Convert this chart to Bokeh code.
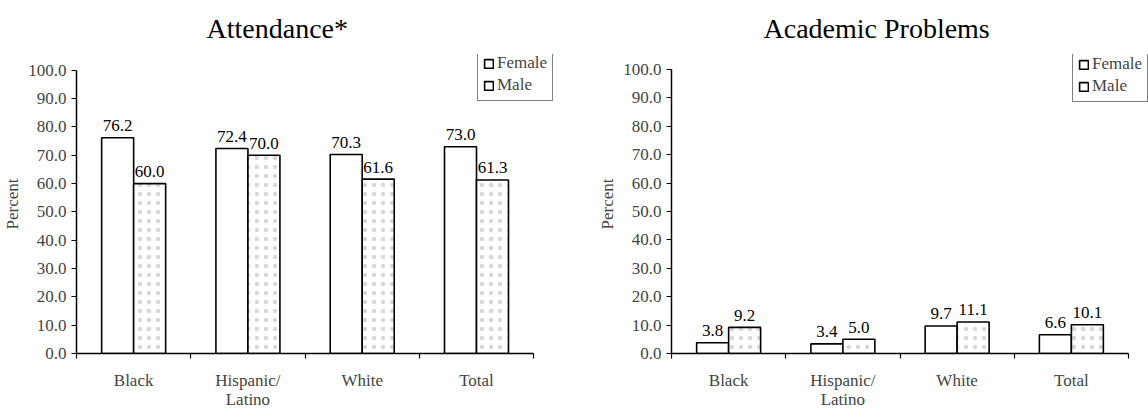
from bokeh.plotting import figure
from bokeh.layouts import row
from bokeh.models import (ColumnDataSource, Range1d, LinearAxis, FixedTicker, Legend, LegendItem,
                          Title, CustomJSTickFormatter)
from bokeh.core.properties import value
from bokeh.embed import file_html
from bokeh.resources import INLINE

categories = ["Black", "Hispanic/\nLatino", "White", "Total"]
att_female = [76.2, 72.4, 70.3, 73.0]
att_male = [60.0, 70.0, 61.6, 61.3]
acad_female = [3.8, 3.4, 9.7, 6.6]
acad_male = [9.2, 5.0, 11.1, 10.1]
y_ticks = [0, 10, 20, 30, 40, 50, 60, 70, 80, 90, 100]
series_names = ["Female", "Male"]

FONT = "Liberation Serif"
BAR_W = 0.28
FS = "17px"


def make_chart(title, female, male, border_left, border_right, border_top, border_bottom,
               x_end, y_end, title_offset, legend_loc):
    n = len(categories)
    centers = [i + 0.5 for i in range(n)]
    src = ColumnDataSource(dict(
        xf=[c - BAR_W / 2 for c in centers], xm=[c + BAR_W / 2 for c in centers],
        female=female, male=male,
        female_lbl=["%.1f" % v for v in female],
        male_lbl=["%.1f" % v for v in male],
    ))
    p = figure(width=574, height=411, x_range=Range1d(0, x_end), y_range=Range1d(0, y_end),
               output_backend="svg", toolbar_location=None, x_axis_location=None,
               min_border_left=border_left, min_border_right=border_right,
               min_border_top=border_top, min_border_bottom=border_bottom)
    p.outline_line_color = None
    p.xgrid.grid_line_color = None
    p.ygrid.grid_line_color = None
    p.background_fill_color = "white"
    p.border_fill_color = "white"

    p.title = Title(text=title, align="left", offset=title_offset, standoff=18,
                    vertical_align="top",
                    text_font=FONT, text_font_size="28px", text_font_style="normal",
                    text_color="black")

    # y axis
    ya = p.yaxis[0]
    ya.ticker = FixedTicker(ticks=y_ticks)
    ya.bounds = (0, 100)
    ya.formatter = CustomJSTickFormatter(code="return tick.toFixed(1);")
    ya.axis_label = "Percent"
    ya.axis_label_text_font = FONT
    ya.axis_label_text_font_size = FS
    ya.axis_label_text_font_style = "normal"
    ya.axis_label_standoff = 3
    ya.major_label_text_font = FONT
    ya.major_label_text_font_size = FS
    ya.major_label_standoff = 5
    ya.major_tick_in = 0
    ya.major_tick_out = 5
    ya.minor_tick_line_color = None
    ya.axis_line_width = 1.5
    ya.major_tick_line_width = 1.2

    # x axis: labels at category centres, small ticks at category boundaries
    xa = LinearAxis(ticker=FixedTicker(ticks=centers, minor_ticks=list(range(n + 1))),
                    bounds=(0, n),
                    major_label_overrides={c: lab for c, lab in zip(centers, categories)},
                    major_tick_line_color=None, major_tick_out=0, major_tick_in=0,
                    minor_tick_out=5, minor_tick_in=0, minor_tick_line_width=1.2,
                    minor_tick_line_color="black",
                    axis_line_width=1.5, major_label_standoff=12,
                    major_label_text_line_height=1.0,
                    major_label_text_font=FONT, major_label_text_font_size=FS)
    p.add_layout(xa, "below")

    r_f = p.vbar(x="xf", top="female", width=BAR_W, source=src,
                 fill_color="white", line_color="black", line_width=1.6)
    p.vbar(x="xm", top="male", width=BAR_W, source=src,
           fill_color="white", line_color="black", line_width=1.6,
           hatch_pattern="dot", hatch_color="#b0b0b0", hatch_scale=9, hatch_weight=0.6,
           hatch_alpha=0.5)

    for xcol, vcol, lcol in (("xf", "female", "female_lbl"), ("xm", "male", "male_lbl")):
        p.text(x=xcol, y=vcol, text=lcol, source=src,
               text_font=value(FONT), text_font_size=FS, text_align="center",
               text_baseline="alphabetic", y_offset=-12, text_color="black")

    legend = Legend(items=[LegendItem(label=series_names[0], renderers=[r_f]),
                           LegendItem(label=series_names[1], renderers=[r_f])],
                    location=legend_loc, orientation="vertical",
                    border_line_color="black", border_line_width=1.2,
                    background_fill_color="white", background_fill_alpha=1,
                    label_text_font=FONT, label_text_font_size=FS,
                    glyph_width=11, glyph_height=11, label_standoff=3,
                    padding=5, spacing=2, margin=0, label_height=19)
    p.add_layout(legend, "center")
    return p


p1 = make_chart("Attendance*", att_female, att_male, 76, 18, 54, 56, 4.2, 105.6, 130, (401, 252))
p2 = make_chart("Academic Problems", acad_female, acad_male, 97, 0, 53, 58, 4.175, 105.3, 92,
                (401, 251))

layout = row(p1, p2, spacing=0)
open("out.html", "w").write(file_html(layout, INLINE))
